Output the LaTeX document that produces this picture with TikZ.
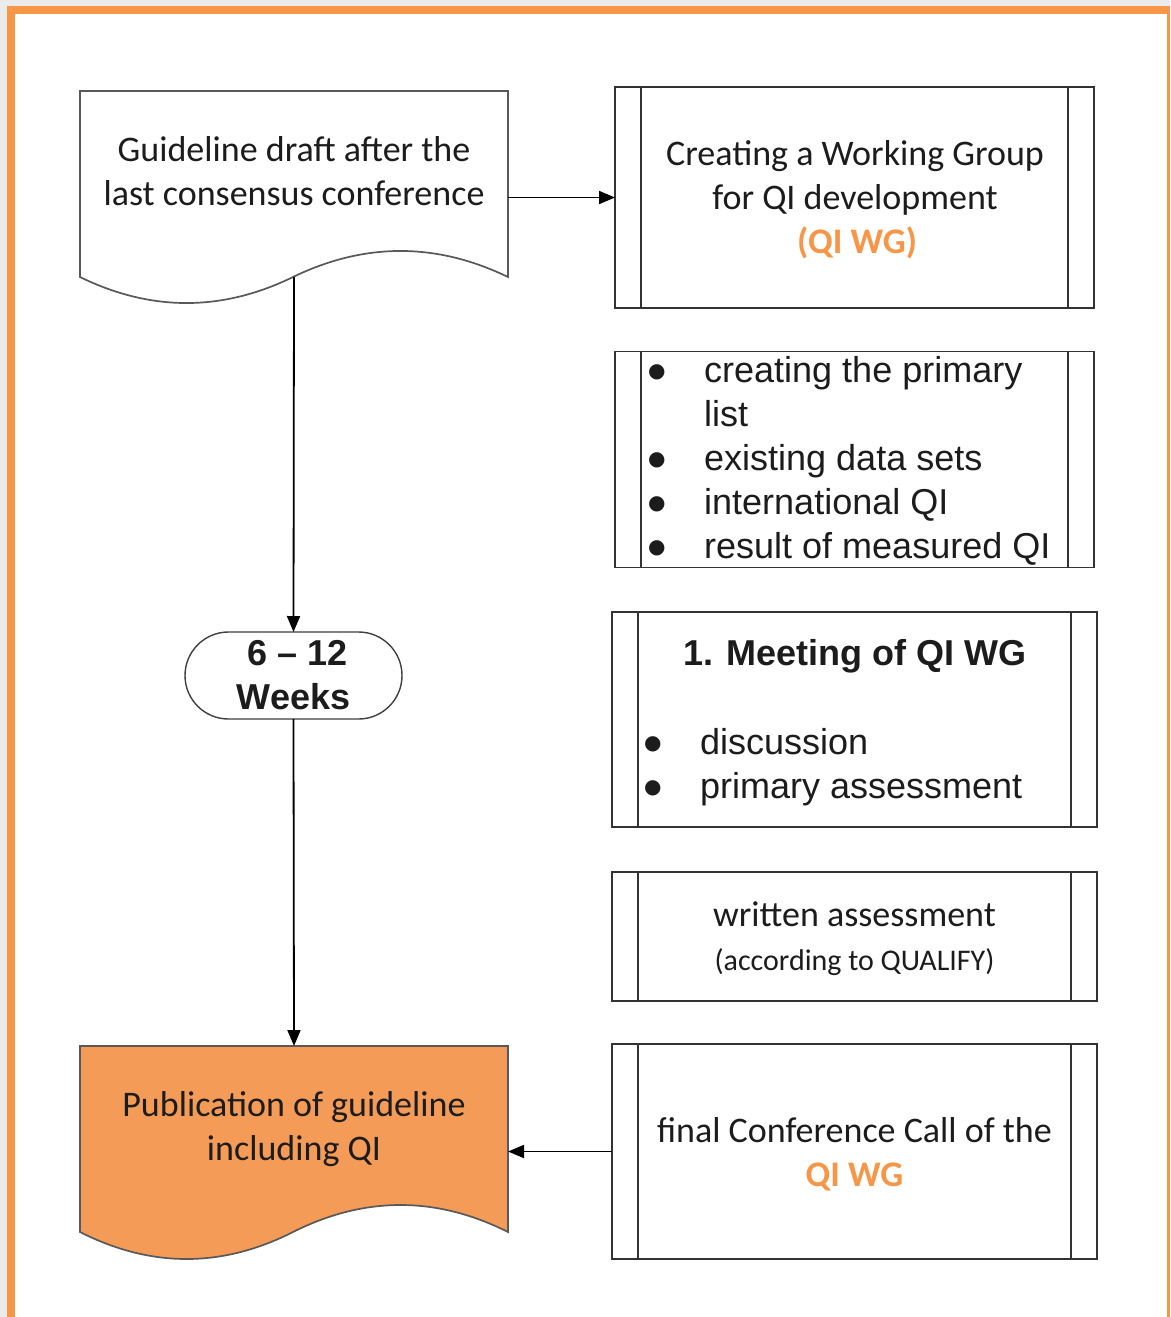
\documentclass[tikz,border=0pt]{standalone}
\usepackage{fontspec}
\setmainfont{Carlito}
\newfontfamily\arialf{Liberation Sans}
\newfontfamily\dejavuf{DejaVu Sans}
\usetikzlibrary{arrows.meta}
\definecolor{qiorange}{HTML}{F79646}
\definecolor{pubfill}{HTML}{F49B57}
\definecolor{txt}{HTML}{1c1c1c}
\definecolor{edge}{HTML}{333333}
\newcommand\innerlines[1]{\draw[edge,line width=1.8pt] ([xshift=26pt]#1.north west) -- ([xshift=26pt]#1.south west) ([xshift=-26pt]#1.north east) -- ([xshift=-26pt]#1.south east);}
\newcommand\qibullet{\makebox[56pt][l]{\raisebox{5pt}{\dejavuf\fontsize{20}{20}\selectfont ●}}}
\begin{document}
\begin{tikzpicture}[x=1pt,y=-1pt,
  procbox/.style={draw=edge,line width=1.8pt,rectangle,inner sep=0pt,outer sep=0pt},
  docregion/.style={rectangle,inner sep=0pt,outer sep=0pt,minimum width=428pt,minimum height=186pt},
  docline/.style={draw=black!65,line width=1.7pt},
  cal/.style={font=\fontsize{36}{44}\selectfont,text=txt,inner sep=0pt,anchor=base},
  calsmall/.style={font=\fontsize{30}{36}\selectfont,text=txt,inner sep=0pt,anchor=base},
  ari/.style={font=\arialf\fontsize{36}{44}\selectfont,text=txt,inner sep=0pt,anchor=base},
  aribullet/.style={font=\arialf\fontsize{36}{44}\selectfont,text=txt,inner sep=0pt,anchor=base west},
  link/.style={draw=black,line width=1.8pt,-{Triangle[length=16pt,width=13pt]}}
]
\useasboundingbox (0,0) rectangle (1170,1317);
% frame
\fill[white] (0,0) rectangle (1170,1317);
\fill[black!8] (0,0) rectangle (7,1317);
\fill[black!8] (0,0) rectangle (1170,6);
\fill[qiorange] (7,6) rectangle (15,1317);
\fill[qiorange] (7,6) rectangle (1170,14);
\fill[qiorange] (1167,6) rectangle (1169.5,1317);

% top document shape
\node[docregion] (doc1) at (294,184) {};
\draw[docline,fill=white] (80,91) -- (508,91) -- (508,277)
  .. controls (436.3,242.3) and (364.7,242.3) .. (293,277)
  .. controls (222,311.7) and (151,311.7) .. (80,277) -- cycle;
\node[cal] (t1a) at (294,161) {Guideline draft after the};
\node[cal] (t1b) at (294,205) {last consensus conference};

% box 1
\node[procbox,minimum width=479pt,minimum height=221pt] (box1) at (854.5,197.5) {};
\innerlines{box1}
\node[cal] (b1a) at (855,165) {Creating a Working Group};
\node[cal] (b1b) at (855,209) {for QI development};
\node[cal,text=qiorange,font=\bfseries\fontsize{36}{44}\selectfont] (b1c) at (857,253) {(QI WG)};

% box 2
\node[procbox,minimum width=479pt,minimum height=216pt] (box2) at (854.5,459.5) {};
\innerlines{box2}
\node[aribullet] (b2a) at (648,382) {\qibullet creating the primary};
\node[aribullet] (b2b) at (648,426) {\hspace*{56pt}list};
\node[aribullet] (b2c) at (648,470) {\qibullet existing data sets};
\node[aribullet] (b2d) at (648,514) {\qibullet international QI};
\node[aribullet] (b2e) at (648,558) {\qibullet result of measured QI};

% terminator
\node[draw=black!75,line width=1.4pt,rectangle,rounded corners=43.5pt,minimum width=217pt,minimum height=87pt,inner sep=0pt,outer sep=0pt] (term) at (293.5,675.5) {};
\node[ari,font=\arialf\bfseries\fontsize{36}{44}\selectfont] (tma) at (293.5,665) {\kern8pt 6 – 12};
\node[ari,font=\arialf\bfseries\fontsize{36}{44}\selectfont] (tmb) at (293.5,709) {Weeks};

% box 3
\node[procbox,minimum width=485pt,minimum height=215pt] (box3) at (854.5,719.5) {};
\innerlines{box3}
\node[ari,font=\arialf\bfseries\fontsize{36}{44}\selectfont] (b3a) at (855,665) {1. Meeting of QI WG};
\node[aribullet] (b3b) at (644,754) {\qibullet discussion};
\node[aribullet] (b3c) at (644,798) {\qibullet primary assessment};

% box 4
\node[procbox,minimum width=485pt,minimum height=129pt] (box4) at (854.5,936.5) {};
\innerlines{box4}
\node[cal] (b4a) at (854.5,926) {written assessment};
\node[calsmall] (b4b) at (854.5,970) {(according to QUALIFY)};

% box 5
\node[procbox,minimum width=485pt,minimum height=215pt] (box5) at (854.5,1151.5) {};
\innerlines{box5}
\node[cal] (b5a) at (854.5,1142) {final Conference Call of the};
\node[cal,text=qiorange,font=\bfseries\fontsize{36}{44}\selectfont] (b5b) at (854.5,1186) {QI WG};

% publication document shape
\node[docregion] (pub) at (294,1139) {};
\draw[docline,fill=pubfill] (80,1046) -- (508,1046) -- (508,1232)
  .. controls (436.3,1196) and (364.7,1196) .. (293,1232)
  .. controls (222,1268) and (151,1268) .. (80,1232) -- cycle;
\node[cal] (p1) at (294,1116) {Publication of guideline};
\node[cal] (p2) at (294,1160) {including QI};

% connectors
\draw[link] (doc1.east |- box1.west) -- (box1.west);
\draw[link] (doc1.south) -- (term.north);
\draw[link] (term.south) -- (pub.north);
\draw[link] (box5.west) -- (pub.east |- box5.west);
\end{tikzpicture}
\end{document}
